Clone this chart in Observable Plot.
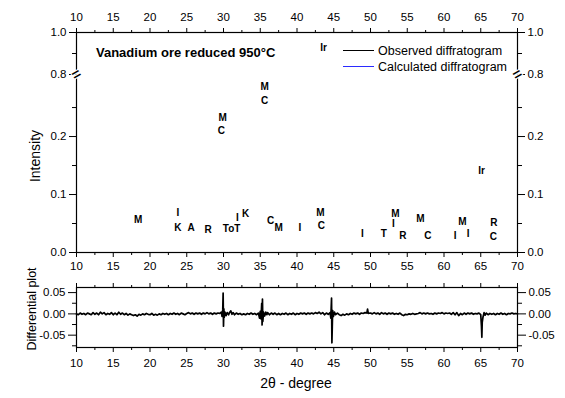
<!DOCTYPE html>
<html>
<head>
<meta charset="utf-8">
<script src="https://cdn.jsdelivr.net/npm/d3@7"></script>
<script src="https://cdn.jsdelivr.net/npm/@observablehq/plot@0.6"></script>
<style>
  body { margin: 0; background: white; }
  #chart { position: relative; width: 565px; height: 398px; font-family: "Liberation Sans", Arial, sans-serif; color: black; }
  #chart svg { position: absolute; left: 0; }
  .ov { position: absolute; white-space: nowrap; line-height: 16px; }
</style>
</head>
<body>
<div id="chart"></div>
<script>
// ---- data ----
const title = "Vanadium ore reduced 950°C";
const legendNames = ["Observed diffratogram", "Calculated diffratogram"];
const legendColors = ["#000000", "#2b2bff"];

const peakNames = ["M","I","K","A","R","ToT","I","K","C","M","I",
                   "M","C","M","C","Ir",
                   "M","C","I","T","M","I","R","M","C","I","M","I","R","C","Ir"];
const peakX = [18.4,23.8,23.8,25.6,27.9,31.1,31.9,33.0,36.4,37.5,40.4,
               29.9,29.7,35.6,35.6,43.6,
               43.2,43.3,48.9,51.8,53.4,53.1,54.4,56.8,57.8,61.5,62.5,63.3,66.8,66.7,65.1];
const peakY = [0.056,0.069,0.043,0.043,0.039,0.041,0.060,0.066,0.055,0.043,0.042,
               0.232,0.210,0.285,0.261,0.927,
               0.068,0.046,0.032,0.032,0.067,0.049,0.028,0.058,0.029,0.029,0.053,0.032,0.052,0.027,0.141];

const xTicks = [10,15,20,25,30,35,40,45,50,55,60,65,70];
const xMinorTicks = [12.5,17.5,22.5,27.5,32.5,37.5,42.5,47.5,52.5,57.5,62.5,67.5];
const yTopTicks = [0, 0.1, 0.2, 0.8, 1.0];
const yTopMinor = [0.05, 0.15, 0.25, 0.9];
const yDiffTicks = [0.05, 0, -0.05];
const yDiffMinor = [0.025, -0.025, -0.075];

// differential plot (2theta, residual)
const diff = [
[10.0,0.000],[10.25,-0.002],[10.5,0.002],[10.75,-0.001],[11.0,0.001],[11.25,-0.002],[11.5,0.002],[11.75,0.000],
[12.0,-0.002],[12.25,0.003],[12.5,-0.001],[12.75,0.002],[13.0,-0.002],[13.25,0.004],[13.5,0.000],[13.75,0.003],
[14.0,-0.002],[14.25,0.001],[14.5,-0.001],[14.75,0.003],[15.0,-0.002],[15.25,0.002],[15.5,-0.002],[15.75,0.004],
[16.0,-0.001],[16.25,0.002],[16.5,-0.002],[16.75,0.001],[17.0,-0.003],[17.25,0.000],[17.5,-0.002],[17.75,-0.004],
[18.0,-0.002],[18.25,-0.005],[18.5,-0.001],[18.75,-0.003],[19.0,0.000],[19.25,-0.002],[19.5,0.001],[19.75,-0.001],
[20.0,-0.002],[20.25,0.001],[20.5,-0.003],[20.75,-0.001],[21.0,-0.003],[21.25,0.000],[21.5,-0.002],[21.75,0.001],
[22.0,-0.001],[22.25,0.001],[22.5,-0.002],[22.75,0.001],[23.0,-0.001],[23.25,0.002],[23.5,-0.001],[23.75,0.001],
[24.0,-0.002],[24.25,0.002],[24.5,0.000],[24.75,-0.002],[25.0,0.001],[25.25,0.003],[25.5,0.000],[25.75,0.002],
[26.0,-0.001],[26.25,0.002],[26.5,0.000],[26.75,0.002],[27.0,-0.001],[27.25,0.002],[27.5,0.000],[27.75,0.003],
[28.0,0.000],[28.25,0.002],[28.5,-0.001],[28.75,0.002],[29.0,0.000],[29.25,0.002],[29.5,0.001],[29.7,0.004],
[29.8,-0.006],[29.9,0.010],[29.95,0.049],[30.0,-0.029],[30.05,0.012],[30.1,-0.008],[30.2,0.004],[30.35,-0.004],
[30.5,0.003],[30.7,-0.002],[30.85,0.004],[31.0,0.007],[31.15,-0.001],[31.3,0.003],[31.5,-0.002],[31.75,0.002],
[32.0,-0.001],[32.25,0.001],[32.5,-0.002],[32.75,0.000],[33.0,-0.002],[33.25,0.001],[33.5,-0.001],[33.75,0.002],
[34.0,-0.001],[34.25,0.001],[34.5,-0.002],[34.75,0.002],[34.9,-0.010],[35.0,0.006],[35.1,-0.012],[35.2,0.025],
[35.25,-0.026],[35.3,0.035],[35.35,-0.018],[35.45,0.004],[35.6,-0.005],[35.75,0.004],[35.9,-0.002],[36.0,0.003],
[36.25,-0.002],[36.5,0.002],[36.75,-0.001],[37.0,0.002],[37.25,-0.002],[37.5,0.001],[37.75,-0.002],[38.0,0.001],
[38.25,-0.001],[38.5,0.002],[38.75,-0.002],[39.0,0.001],[39.25,-0.001],[39.5,0.002],[39.75,-0.002],[40.0,0.001],
[40.25,-0.001],[40.5,0.002],[40.75,0.000],[41.0,0.002],[41.25,-0.001],[41.5,0.002],[41.75,0.000],[42.0,0.002],
[42.25,0.000],[42.5,0.003],[42.75,0.001],[43.0,0.004],[43.25,0.000],[43.5,0.003],[43.75,-0.002],[44.0,0.002],
[44.25,-0.001],[44.5,0.003],[44.6,-0.010],[44.7,0.037],[44.75,-0.068],[44.8,-0.030],[44.85,0.008],[44.95,-0.006],
[45.1,0.004],[45.25,-0.002],[45.5,0.002],[45.75,-0.002],[46.0,-0.004],[46.25,-0.001],[46.5,-0.003],[46.75,0.000],
[47.0,-0.002],[47.25,0.001],[47.5,-0.001],[47.75,0.002],[48.0,0.000],[48.25,0.002],[48.5,-0.001],[48.75,0.002],
[49.0,0.001],[49.25,0.003],[49.5,0.002],[49.6,0.011],[49.7,0.001],[50.0,0.002],[50.25,0.000],[50.5,0.003],
[50.75,0.000],[51.0,0.002],[51.25,-0.001],[51.5,0.003],[51.75,0.000],[52.0,0.002],[52.25,-0.001],[52.5,0.002],
[52.75,0.000],[53.0,0.002],[53.25,-0.001],[53.5,0.001],[53.75,-0.001],[54.0,0.002],[54.25,-0.002],[54.5,-0.004],
[54.75,-0.001],[55.0,-0.002],[55.25,0.000],[55.5,-0.001],[55.75,0.001],[56.0,-0.001],[56.25,0.000],[56.5,0.001],
[56.75,0.003],[57.0,0.000],[57.25,0.002],[57.5,0.000],[57.75,0.002],[58.0,0.000],[58.25,0.001],[58.5,-0.001],
[58.75,0.002],[59.0,0.000],[59.25,0.002],[59.5,0.001],[59.75,0.003],[60.0,0.000],[60.25,0.002],[60.5,0.001],
[60.75,0.002],[61.0,-0.001],[61.25,0.003],[61.5,-0.002],[61.75,0.003],[62.0,-0.004],[62.25,0.001],[62.5,-0.002],
[62.75,0.002],[63.0,-0.001],[63.25,0.002],[63.5,0.000],[63.75,0.002],[64.0,-0.001],[64.25,0.001],[64.5,0.000],
[64.75,0.002],[65.0,-0.002],[65.1,-0.030],[65.15,-0.055],[65.2,-0.020],[65.3,-0.008],[65.45,0.003],[65.6,-0.003],
[65.75,0.002],[66.0,-0.002],[66.25,0.001],[66.5,-0.001],[66.75,0.001],[67.0,-0.002],[67.25,0.001],[67.5,-0.001],
[67.75,0.002],[68.0,-0.001],[68.25,0.001],[68.5,-0.002],[68.75,0.001],[69.0,0.000],[69.25,0.002],[69.5,0.000],
[69.75,0.001],[70.0,0.000]
];

// ---- drawing ----
const font = '"Liberation Sans", Arial, sans-serif';
const fmt1 = d => d.toFixed(1);
const fmt2 = d => d.toFixed(2).replace("\u2212", "-");
const blank = () => "";

const topPlot = Plot.plot({
  width: 565, height: 280,
  marginTop: 32, marginBottom: 28, marginLeft: 76, marginRight: 48,
  style: { fontFamily: font, fontSize: "11.5px", color: "black", background: "transparent", overflow: "visible" },
  x: { domain: [10, 70] },
  y: { type: "linear", domain: [0, 0.307, 0.8, 1.0], range: [252, 74, 74, 32] },
  marks: [
    Plot.frame({ stroke: "black", strokeWidth: 1.2 }),
    Plot.axisX({ anchor: "bottom", ticks: xTicks, tickSize: 5, tickPadding: 4, tickFormat: d => String(d), label: null }),
    Plot.axisX({ anchor: "bottom", ticks: xMinorTicks, tickSize: 3, tickFormat: blank, label: null }),
    Plot.axisX({ anchor: "top", ticks: xTicks, tickSize: 5, tickPadding: 7, tickFormat: d => String(d), label: null }),
    Plot.axisX({ anchor: "top", ticks: xMinorTicks, tickSize: 3, tickFormat: blank, label: null }),
    Plot.axisY({ anchor: "left", ticks: yTopTicks, tickSize: 7, tickPadding: 3, tickFormat: fmt1, label: null }),
    Plot.axisY({ anchor: "left", ticks: yTopMinor, tickSize: 4, tickFormat: blank, label: null }),
    Plot.axisY({ anchor: "right", ticks: yTopTicks, tickSize: 7, tickPadding: 3, tickFormat: fmt1, label: null }),
    Plot.axisY({ anchor: "right", ticks: yTopMinor, tickSize: 4, tickFormat: blank, label: null }),
    Plot.text(["=", "="], { x: [10, 70], y: [0.8, 0.8], rotate: -30, fontSize: 15, fontWeight: "bold",
      fill: "black", stroke: "white", strokeWidth: 2 }),
    Plot.text(peakNames, { x: peakX, y: peakY, text: d => d, fontSize: 10, fontWeight: "bold", fill: "black" })
  ]
});
topPlot.style.top = "0px";

const bottomPlot = Plot.plot({
  width: 565, height: 126,
  marginTop: 15, marginBottom: 51, marginLeft: 76, marginRight: 48,
  style: { fontFamily: font, fontSize: "11.5px", color: "black", background: "transparent", overflow: "visible" },
  x: { domain: [10, 70] },
  y: { domain: [-0.079, 0.062] },
  marks: [
    Plot.line(diff, { x: d => d[0], y: d => d[1], stroke: "black", strokeWidth: 1.7 }),
    Plot.frame({ stroke: "black", strokeWidth: 1.2 }),
    Plot.axisX({ anchor: "bottom", ticks: xTicks, tickSize: 5, tickPadding: 6, tickFormat: d => String(d), label: null }),
    Plot.axisX({ anchor: "bottom", ticks: xMinorTicks, tickSize: 3, tickFormat: blank, label: null }),
    Plot.axisX({ anchor: "top", ticks: xTicks, tickSize: 5, tickFormat: blank, label: null }),
    Plot.axisX({ anchor: "top", ticks: xMinorTicks, tickSize: 3, tickFormat: blank, label: null }),
    Plot.axisY({ anchor: "left", ticks: yDiffTicks, tickSize: 8, tickPadding: 3, tickFormat: fmt2, label: null }),
    Plot.axisY({ anchor: "left", ticks: yDiffMinor, tickSize: 4, tickFormat: blank, label: null }),
    Plot.axisY({ anchor: "right", ticks: yDiffTicks, tickSize: 8, tickPadding: 3, tickFormat: fmt2, label: null }),
    Plot.axisY({ anchor: "right", ticks: yDiffMinor, tickSize: 4, tickFormat: blank, label: null })
  ]
});
bottomPlot.style.top = "272px";

const chart = document.getElementById("chart");
chart.appendChild(topPlot);
chart.appendChild(bottomPlot);

function overlay(html, css) {
  const d = document.createElement("div");
  d.className = "ov";
  d.innerHTML = html;
  Object.assign(d.style, css);
  chart.appendChild(d);
  return d;
}
// title
overlay(title, { left: "96px", top: "45px", fontSize: "13px", fontWeight: "bold" });
// legend
legendNames.forEach((name, i) => {
  const y = 51 + i * 16;
  overlay("", { left: "343px", top: (y - 1) + "px", width: "31px", height: "0px", borderTop: "1.3px solid " + legendColors[i] });
  overlay(name, { left: "378px", top: (y - 8) + "px", fontSize: "12.5px" });
});
// axis titles
overlay("Intensity", { left: "35px", top: "156px", fontSize: "14px", transform: "translate(-50%,-50%) rotate(-90deg)" });
overlay("Differential plot", { left: "32px", top: "309px", fontSize: "12.5px", transform: "translate(-50%,-50%) rotate(-90deg)" });
overlay("2θ - degree", { left: "296px", top: "383px", fontSize: "14px", transform: "translate(-50%,-50%)" });
</script>
</body>
</html>
